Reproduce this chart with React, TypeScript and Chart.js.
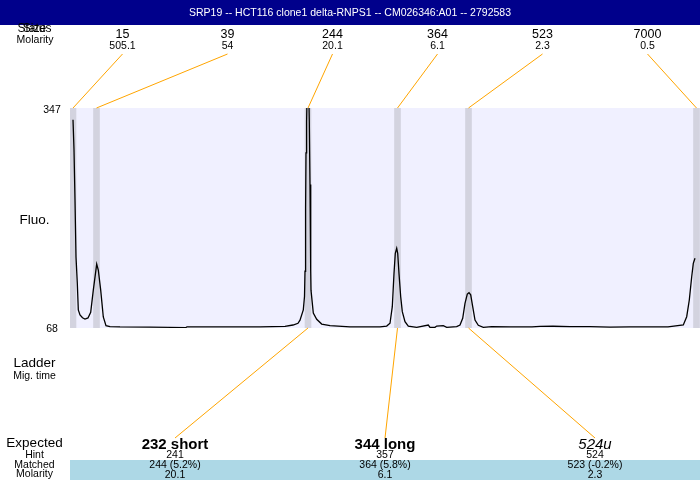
import React, { useEffect, useRef } from 'react';
import { Chart, registerables } from 'chart.js';

Chart.register(...registerables);

const TITLE = 'SRP19 -- HCT116 clone1 delta-RNPS1 -- CM026346:A01 -- 2792583';

// Ladder (upper) annotations
const ladderSizes = ['15', '39', '244', '364', '523', '7000'];
const ladderMolarity = ['505.1', '54', '20.1', '6.1', '2.3', '0.5'];
const ladderPeakTimes = [3, 26.5, 238, 327.5, 398.5, 626.5];

// Expected (lower) annotations
const expectedLabels = ['232 short', '344 long', '524u'];
const hintSizes = ['241', '357', '524'];
const matchedLabels = ['244 (5.2%)', '364 (5.8%)', '523 (-0.2%)'];
const matchedMolarity = ['20.1', '6.1', '2.3'];
const matchedPeakIndex = [2, 3, 4];

// Y range / tick labels
const fluoMin = 68;
const fluoMax = 347;
const yTickLabels = ['347', '68'];
const timeMin = 0;
const timeMax = 630;

// Electropherogram trace
const traceTime = [
  3, 4, 5, 6, 7.3, 8.3, 10, 12.5, 15, 18, 20.7, 23.3, 26.7, 28.3, 30.7, 33.3, 36, 40, 50, 80,
  116, 117, 150, 190, 215, 223, 228, 230, 233.3, 234.5, 235, 235.6, 236, 236.6, 237.5, 238.3,
  239.3, 240, 240.7, 241, 243.3, 246.7, 251.7, 260, 280, 290, 310, 316.7, 320, 322.3, 324,
  325.3, 326.7, 327.7, 329, 330.7, 332.3, 335, 338.3, 346.7, 358.3, 360, 365, 366.7, 373.3,
  376.7, 386.7, 390, 392.7, 395, 397.3, 399, 400.7, 402.7, 405, 408.3, 413.3, 421.7, 440, 462,
  470, 483, 500, 520, 540, 560, 580, 598, 613.3, 616.7, 619.3, 621.7, 623.3, 625,
];
const traceFluo = [
  332, 294, 230, 158, 125, 91, 84.5, 81, 79.4, 80.7, 88, 116, 149, 141.5, 116, 82, 71, 69.8, 69.3, 69.2,
  68.6, 69.5, 69.3, 69.3, 70, 71.8, 74, 78, 91, 108, 140, 220, 290, 330, 390, 400,
  330, 250, 141, 116, 87, 79, 73, 71, 69.5, 69.3, 69.5, 70.5, 74, 95, 137,
  162.7, 169, 162.7, 137, 107.7, 88.7, 76, 70.5, 68.9, 71.8, 68.9, 68.9, 70.5, 71,
  68.9, 69.7, 71.8, 80.3, 99.3, 111, 112.8, 110, 95, 78, 71.4, 68.9, 69.7, 69.5, 69.5,
  70, 70.2, 69.8, 69.7, 69, 69.5, 69.3, 69.5, 71.8, 82.3, 103.5, 133, 150, 156.4,
];

const FONT = '"Liberation Sans", Arial, Helvetica, sans-serif';
const expectedStyles = ['bold', 'bold', 'italic'];

function text(ctx: CanvasRenderingContext2D, s: string, x: number, y: number, size: number, color = '#000', style = '') {
  ctx.font = `${style} ${size}px ${FONT}`.trim();
  ctx.fillStyle = color;
  ctx.textAlign = 'center';
  ctx.textBaseline = 'middle';
  ctx.fillText(s, x, y);
}

const overlay = {
  id: 'overlay',
  beforeDraw(chart: any) {
    const { ctx, chartArea: a, scales } = chart;
    const x = scales.x;
    ctx.save();
    ctx.fillStyle = '#ffffff';
    ctx.fillRect(0, 0, chart.width, chart.height);
    ctx.fillStyle = '#F0F0FF';
    ctx.fillRect(a.left, a.top, a.right - a.left, a.bottom - a.top);
    ctx.beginPath();
    ctx.rect(a.left, a.top, a.right - a.left, a.bottom - a.top);
    ctx.clip();
    ctx.fillStyle = '#D3D3DF';
    ladderPeakTimes.forEach((t) => {
      const px = x.getPixelForValue(t);
      ctx.fillRect(px - 3.3, a.top, 6.6, a.bottom - a.top);
    });
    ctx.restore();
    ctx.save();
    ctx.fillStyle = '#ADD8E6';
    ctx.fillRect(a.left, 460, a.right - a.left, 20);
    ctx.restore();
  },
  afterDraw(chart: any) {
    const { ctx, chartArea: a, scales } = chart;
    const x = scales.x;
    const w = a.right - a.left;
    ctx.save();
    // title bar
    ctx.fillStyle = '#00008B';
    ctx.fillRect(0, 0, chart.width, 25);
    text(ctx, TITLE, chart.width / 2, 13, 10.5, '#ffffff');

    // left labels
    text(ctx, 'Size', 34.5, 28.5, 12);
    text(ctx, 'Status', 34.5, 28.5, 12);
    text(ctx, 'Molarity', 35, 40.5, 10.5);
    text(ctx, 'Fluo.', 34.5, 220, 13.5);
    text(ctx, yTickLabels[0], 52, 110, 10.5);
    text(ctx, yTickLabels[1], 52, 329, 10.5);
    text(ctx, 'Ladder', 34.5, 363.5, 13.5);
    text(ctx, 'Mig. time', 34.5, 376, 10.5);
    text(ctx, 'Expected', 34.5, 443.5, 13.5);
    text(ctx, 'Hint', 34.5, 455, 10.5);
    text(ctx, 'Matched', 34.5, 465, 10.5);
    text(ctx, 'Molarity', 34.5, 474.5, 10.5);

    // ladder labels and connectors
    ctx.strokeStyle = '#FFA500';
    ctx.lineWidth = 1;
    ladderSizes.forEach((s, i) => {
      const cx = a.left + (w / ladderSizes.length) * (i + 0.5);
      text(ctx, s, cx, 34.5, 12.5);
      text(ctx, ladderMolarity[i], cx, 46.5, 10.5);
      const px = x.getPixelForValue(ladderPeakTimes[i]);
      ctx.beginPath();
      ctx.moveTo(cx, 54);
      ctx.lineTo(px, a.top);
      ctx.stroke();
    });

    // expected labels and connectors
    expectedLabels.forEach((s, i) => {
      const cx = a.left + (w / expectedLabels.length) * (i + 0.5);
      const px = x.getPixelForValue(ladderPeakTimes[matchedPeakIndex[i]]);
      ctx.strokeStyle = '#FFA500';
      ctx.beginPath();
      ctx.moveTo(px, a.bottom);
      ctx.lineTo(cx, 438);
      ctx.stroke();
      text(ctx, s, cx, 444.5, 15, '#000', expectedStyles[i]);
      text(ctx, hintSizes[i], cx, 455, 10.5);
      text(ctx, matchedLabels[i], cx, 465, 10.5);
      text(ctx, matchedMolarity[i], cx, 475, 10.5);
    });
    ctx.restore();
  },
};

export default function App() {
  const ref = useRef<HTMLCanvasElement>(null);
  useEffect(() => {
    if (!ref.current) return;
    const chart = new Chart(ref.current, {
      type: 'line',
      data: {
        datasets: [
          {
            data: traceTime.map((t, i) => ({ x: t, y: traceFluo[i] })),
            borderColor: '#000000',
            borderWidth: 1.3,
            pointRadius: 0,
            tension: 0,
            fill: false,
          },
        ],
      },
      options: {
        responsive: false,
        animation: false,
        devicePixelRatio: 1,
        layout: { padding: { left: 70, right: 0, top: 108, bottom: 152 } },
        plugins: { legend: { display: false }, title: { display: false }, tooltip: { enabled: false } },
        scales: {
          x: { type: 'linear', min: timeMin, max: timeMax, display: false },
          y: { type: 'linear', min: fluoMin, max: fluoMax, display: false },
        },
      },
      plugins: [overlay],
    });
    return () => chart.destroy();
  }, []);
  return (
    <canvas
      ref={ref}
      width={700}
      height={480}
      style={{ position: 'fixed', left: 0, top: 0, width: 700, height: 480 }}
    />
  );
}
